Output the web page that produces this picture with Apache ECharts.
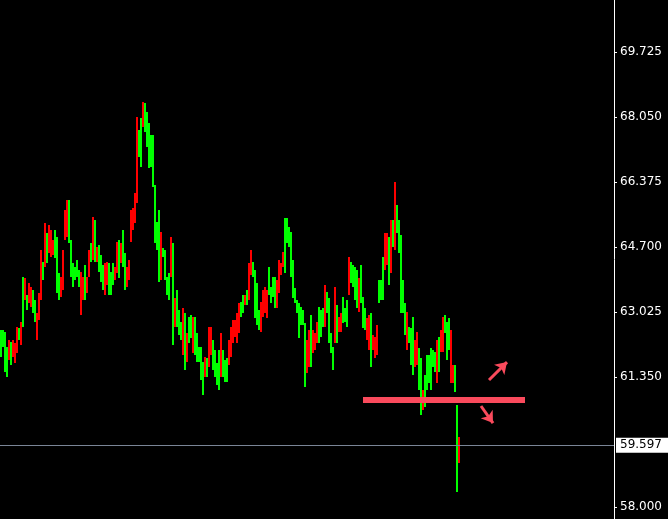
<!DOCTYPE html>
<html><head><meta charset="utf-8">
<script src="https://cdn.jsdelivr.net/npm/echarts@6/dist/echarts.min.js"></script>
<style>html,body{margin:0;padding:0;background:#000;}#c{width:668px;height:519px;}</style>
</head><body><div id="c"></div>
<script>
// Bar highs / lows (one bar per 2px column)
const highs = [
62.57,62.57,62.52,62.13,62.31,62.26,62.31,62.23,62.65,62.62,
62.77,63.93,63.91,63.47,63.78,63.68,63.60,63.34,63.00,63.52,
64.63,64.32,65.33,65.07,65.27,65.15,64.89,65.15,64.96,64.04,
63.93,64.63,65.66,65.92,65.92,64.89,64.29,64.19,64.37,64.11,
64.06,63.93,64.24,63.93,64.63,64.81,65.48,65.40,64.71,64.76,
64.50,64.24,64.29,64.32,64.29,64.06,64.29,64.19,64.84,64.89,
64.81,65.15,64.55,64.19,64.37,65.66,65.71,66.10,68.06,67.72,
68.03,68.44,68.42,68.19,67.90,67.59,67.59,66.30,65.35,65.66,
65.09,64.68,64.63,63.93,64.04,64.96,64.81,63.39,63.60,63.08,
62.77,63.13,63.00,62.49,62.90,62.95,62.90,62.90,62.49,62.13,
62.13,61.74,61.87,61.85,62.65,62.65,62.31,62.05,61.72,62.05,
62.49,62.05,61.80,61.85,62.31,62.65,62.83,62.83,63.00,63.26,
63.29,63.47,63.47,63.60,64.29,64.63,64.32,64.11,63.78,63.08,
63.29,63.60,63.68,63.60,64.19,63.68,63.93,63.93,63.86,64.37,
64.29,64.58,65.45,65.45,65.22,65.09,64.37,63.65,63.34,63.26,
63.16,63.08,62.75,62.31,62.57,62.95,62.57,62.49,62.77,63.16,
63.08,63.13,63.73,63.55,63.39,62.49,62.13,63.68,63.21,62.90,
63.00,63.42,63.13,63.34,64.45,64.32,64.24,64.19,64.11,63.91,
64.24,63.42,63.13,62.88,62.95,63.00,62.44,62.39,62.70,63.86,
63.86,64.45,65.07,65.07,64.96,65.40,65.40,66.38,65.79,65.40,
65.01,63.86,63.26,63.03,62.65,62.62,62.90,62.31,62.52,62.10,
61.85,61.02,61.41,61.92,61.92,62.10,62.05,62.00,62.31,62.39,
62.57,62.90,62.95,62.77,62.88,62.57,61.67,61.67,60.64,59.81
];
const lows = [
61.87,62.13,61.49,61.36,61.80,61.67,61.87,61.72,61.98,62.31,
62.18,62.65,63.34,63.08,63.26,63.16,63.00,62.77,62.31,62.83,
63.34,63.86,64.19,64.29,64.55,64.45,64.50,64.42,63.52,63.34,
63.42,63.60,64.89,64.96,64.81,63.93,63.68,63.86,63.93,63.68,
62.95,63.34,63.34,63.52,63.93,64.32,64.37,64.32,64.32,64.06,
63.81,63.60,63.47,63.73,63.47,63.47,63.73,63.86,64.04,63.91,
64.29,64.19,63.60,63.68,63.86,64.84,65.15,65.33,65.84,67.03,
66.77,67.80,67.67,67.28,66.74,66.77,66.25,64.81,64.63,63.81,
63.86,64.45,63.86,63.47,63.34,63.93,62.18,62.65,62.65,62.44,
62.31,61.92,61.54,61.74,62.23,62.36,61.98,61.92,61.74,61.74,
61.28,60.89,61.36,61.36,61.61,61.92,61.54,61.36,61.15,61.02,
61.36,61.36,61.23,61.23,61.67,61.87,62.23,62.39,62.23,62.49,
62.90,63.00,63.21,63.21,63.34,63.98,63.93,62.88,62.70,62.57,
62.52,62.90,63.00,62.88,63.47,63.26,63.42,63.13,63.13,63.52,
63.98,64.19,64.04,64.81,64.71,63.93,63.39,63.26,63.00,62.36,
62.70,62.70,61.10,61.46,61.61,61.61,61.98,62.05,62.23,62.23,
62.39,62.65,62.65,63.00,62.23,61.98,61.54,62.23,62.23,62.52,
62.52,62.75,62.77,62.65,63.47,63.78,63.68,63.34,63.13,63.03,
63.26,62.62,62.57,62.31,62.05,61.61,62.05,61.85,61.92,63.26,
63.34,63.34,64.11,64.24,63.73,64.04,64.71,64.63,65.07,64.55,
63.00,63.00,62.44,62.05,62.23,61.67,61.41,61.61,61.67,61.02,
60.38,60.51,60.58,61.02,61.20,61.02,61.61,61.49,61.20,61.49,
62.00,62.00,62.49,61.80,62.05,61.20,61.20,60.97,58.39,59.14
];
// G = up bar (green), R = down bar (red)
const dirs = (
"GGGGRGRRRG" + "RGRGRRGGRR" + "RGRGRRRGGG" + "RRRRGGGGGG" +
"RRGRRGRGRG" + "GGRRGGGRRG" + "RGGRRRRRRG" + "GRGGGGGGGG" +
"RGGGGRGRGG" + "GRGRGGRGGG" + "GGRGRRGGGG" + "RGGGRRRRRR" +
"GGRGRRGGGG" + "RRRRGGGGRR" + "RRGGGGGGGG" + "GGGRRGRRRG" +
"GGRGGGGRGR" + "RGGGRGGGGR" + "GGGRRGRRRG" + "GGRRGRGRGG" +
"GGGRGGGRRG" + "GRGGGGGGRG" + "RRGGGRRGGR");

const slotCount = 307;               // bar slots across the plot
const tickValues = [58.000, 61.350, 63.025, 64.700, 66.375, 68.050, 69.725];
const yMin = 57.699, yMax = 71.068;
const bidPrice = 59.597;
const levelPrice = 60.76, levelFrom = 181, levelTo = 262;
const arrowUp = [[244, 61.28], [253, 61.74]];
const arrowDown = [[240, 60.61], [246, 60.17]];

const categories = [];
for (let i = 0; i < slotCount; i++) categories.push(String(i));
const bars = highs.map((h, i) => [i, lows[i], h, dirs[i] === 'G' ? 1 : 0]);

const upColor = '#00ff00', downColor = '#ff0000';
const pink = '#fa4a5c';
const chart = echarts.init(document.getElementById('c'));
chart.setOption({
  backgroundColor: '#000000',
  animation: false,
  grid: { left: 0, right: 54, top: 0, bottom: 0, containLabel: false, outerBoundsMode: 'none' },
  xAxis: { type: 'category', data: categories, show: false, boundaryGap: true },
  yAxis: {
    type: 'value', position: 'right', min: yMin, max: yMax, scale: true,
    splitLine: { show: false },
    axisLine: { show: true, lineStyle: { color: '#ffffff', width: 1 } },
    axisTick: { show: true, length: 3, customValues: tickValues, lineStyle: { color: '#ffffff' } },
    axisLabel: {
      customValues: tickValues, color: '#ffffff', fontFamily: 'DejaVu Sans', fontSize: 12, margin: 6,
      formatter: v => Number(v).toFixed(3)
    }
  },
  series: [{
    type: 'custom',
    data: bars,
    clip: false,
    silent: true,
    encode: { x: 0, y: [1, 2] },
    renderItem: function (params, api) {
      const i = api.value(0);
      const top = api.coord([i, api.value(2)]);
      const bot = api.coord([i, api.value(1)]);
      const w = Math.round(api.size([1, 0])[0]);
      const x = Math.round(top[0] - w / 2);
      const y0 = Math.round(top[1]), y1 = Math.round(bot[1]);
      return {
        type: 'rect',
        shape: { x: x, y: y0, width: w, height: Math.max(1, y1 - y0) },
        style: { fill: api.value(3) ? upColor : downColor }
      };
    },
    markLine: {
      silent: true, animation: false,
      symbol: ['none', 'none'],
      data: [
        [{ coord: [0, bidPrice], x: 0, lineStyle: { color: '#7a8596', width: 1, type: 'solid' },
           label: { show: true, position: 'end', distance: 2, formatter: bidPrice.toFixed(3),
             color: '#000000', backgroundColor: '#ffffff', padding: [2, 8, 1, 4],
             fontFamily: 'DejaVu Sans', fontSize: 12 } },
         { coord: [slotCount - 1, bidPrice], x: 614 }],
        [{ coord: [levelFrom, levelPrice], lineStyle: { color: pink, width: 6, type: 'solid' }, label: { show: false } },
         { coord: [levelTo, levelPrice] }],
        [{ coord: arrowUp[0], symbol: 'none', lineStyle: { color: pink, width: 3, type: 'solid' }, label: { show: false } },
         { coord: arrowUp[1], symbol: 'arrow', symbolSize: 11 }],
        [{ coord: arrowDown[0], symbol: 'none', lineStyle: { color: pink, width: 3, type: 'solid' }, label: { show: false } },
         { coord: arrowDown[1], symbol: 'arrow', symbolSize: 11 }]
      ]
    }
  }]
});
</script>
</body></html>
